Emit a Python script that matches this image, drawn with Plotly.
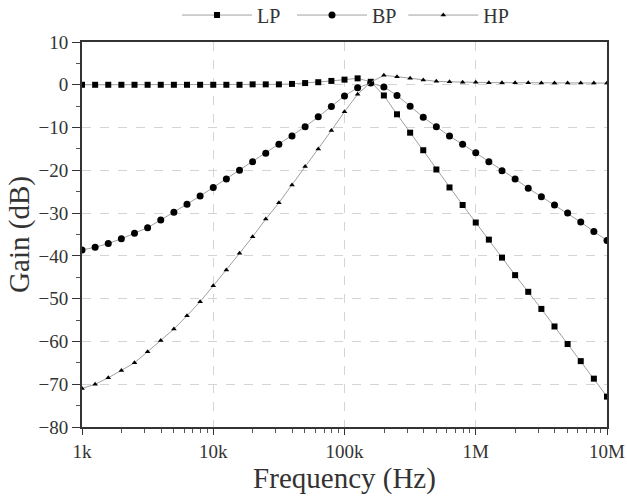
import plotly.graph_objects as go

freq = [1000, 1259, 1585, 1995, 2512, 3162, 3981, 5012, 6310, 7943,
        10000, 12589, 15849, 19953, 25119, 31623, 39811, 50119, 63096, 79433,
        100000, 125893, 158489, 199526, 251189, 316228, 398107, 501187, 630957, 794328,
        1000000, 1258925, 1584893, 1995262, 2511886, 3162278, 3981072, 5011872, 6309573, 7943282,
        10000000]

lp = [0.0, 0.0, 0.0, 0.0, 0.0, 0.0, 0.0, 0.0, 0.0, 0.0,
      0.0, 0.0, 0.0, 0.1, 0.1, 0.1, 0.2, 0.4, 0.6, 0.9,
      1.2, 1.5, 0.7, -2.5, -6.9, -11.2, -15.3, -19.8, -24.0, -28.1,
      -32.2, -36.2, -40.4, -44.5, -48.4, -52.4, -56.5, -60.6, -64.6, -68.7,
      -72.9]

bp = [-38.6, -38.0, -37.1, -36.0, -34.7, -33.4, -31.6, -29.8, -27.9, -26.0,
      -24.0, -22.0, -20.0, -18.0, -16.0, -13.9, -12.0, -9.8, -7.5, -5.1,
      -2.6, -0.7, 0.4, -0.5, -2.5, -5.0, -7.6, -9.8, -12.0, -13.9,
      -15.9, -18.0, -20.1, -22.0, -24.2, -26.2, -28.1, -30.0, -32.1, -34.3,
      -36.4]

hp = [-71.0, -70.0, -68.5, -66.8, -65.0, -62.4, -59.8, -57.1, -54.0, -50.7,
      -47.0, -43.3, -39.4, -35.5, -31.4, -27.6, -23.4, -19.1, -15.0, -10.7,
      -6.3, -2.2, 0.6, 2.2, 1.9, 1.5, 1.1, 0.8, 0.7, 0.6,
      0.6, 0.5, 0.5, 0.5, 0.5, 0.4, 0.4, 0.4, 0.4, 0.4,
      0.4]

x_tickvals = [1e3, 1e4, 1e5, 1e6, 1e7]
x_ticktext = ["1k", "10k", "100k", "1M", "10M"]
x_minor = [m * d for d in (1e3, 1e4, 1e5, 1e6) for m in range(2, 10)]

FONT = "'Liberation Serif', 'Times New Roman', serif"
TXT = "#333333"
line_style = dict(color="#a0a0a0", width=1)

fig = go.Figure()
fig.add_trace(go.Scatter(x=freq, y=lp, name="LP", mode="lines+markers",
                         line=line_style, legend="legend",
                         marker=dict(symbol="square", size=6, color="black")))
fig.add_trace(go.Scatter(x=freq, y=bp, name="BP", mode="lines+markers",
                         line=line_style, legend="legend2",
                         marker=dict(symbol="circle", size=7, color="black")))
fig.add_trace(go.Scatter(x=freq, y=hp, name="HP", mode="lines+markers",
                         line=line_style, legend="legend3",
                         marker=dict(symbol="triangle-up", size=5, color="black")))

def leg(x):
    return dict(orientation="h", x=x, xanchor="left", y=1.07, yanchor="middle",
                font=dict(family=FONT, size=20, color=TXT),
                itemwidth=70, bgcolor="rgba(0,0,0,0)")

fig.update_layout(
    width=627, height=502,
    margin=dict(l=82, r=20, t=42, b=75, autoexpand=False),
    paper_bgcolor="white", plot_bgcolor="white",
    font=dict(family=FONT, size=20, color=TXT),
    showlegend=True,
    legend=leg(0.181),
    legend2=leg(0.400),
    legend3=leg(0.612),
)
fig.update_xaxes(
    type="log", range=[3, 7], automargin=False,
    tickvals=x_tickvals, ticktext=x_ticktext, ticklabeloverflow="allow",
    ticks="outside", ticklen=6, tickwidth=1.2, tickcolor=TXT,
    minor=dict(tickvals=x_minor, ticks="outside", ticklen=4, tickcolor="#555", showgrid=False),
    showline=True, linecolor=TXT, linewidth=2, mirror=True,
    showgrid=True, gridcolor="#d4d4d4", griddash="dash", gridwidth=1,
    zeroline=False,
    title=dict(text="Frequency (Hz)", font=dict(family=FONT, size=29, color=TXT), standoff=6),
    tickfont=dict(family=FONT, size=19, color=TXT),
)
fig.update_yaxes(
    range=[-80, 10], dtick=10, tick0=0, automargin=False,
    ticks="outside", ticklen=8, tickwidth=1.2, tickcolor=TXT,
    minor=dict(ticks="outside", ticklen=4, dtick=5, tickcolor="#555", showgrid=False),
    showline=True, linecolor=TXT, linewidth=2, mirror=True,
    showgrid=True, gridcolor="#d4d4d4", griddash="dash", gridwidth=1,
    zeroline=False,
    title=dict(text="Gain (dB)", font=dict(family=FONT, size=29, color=TXT), standoff=0),
    tickfont=dict(family=FONT, size=19, color=TXT),
)

fig.write_html("out.html")
